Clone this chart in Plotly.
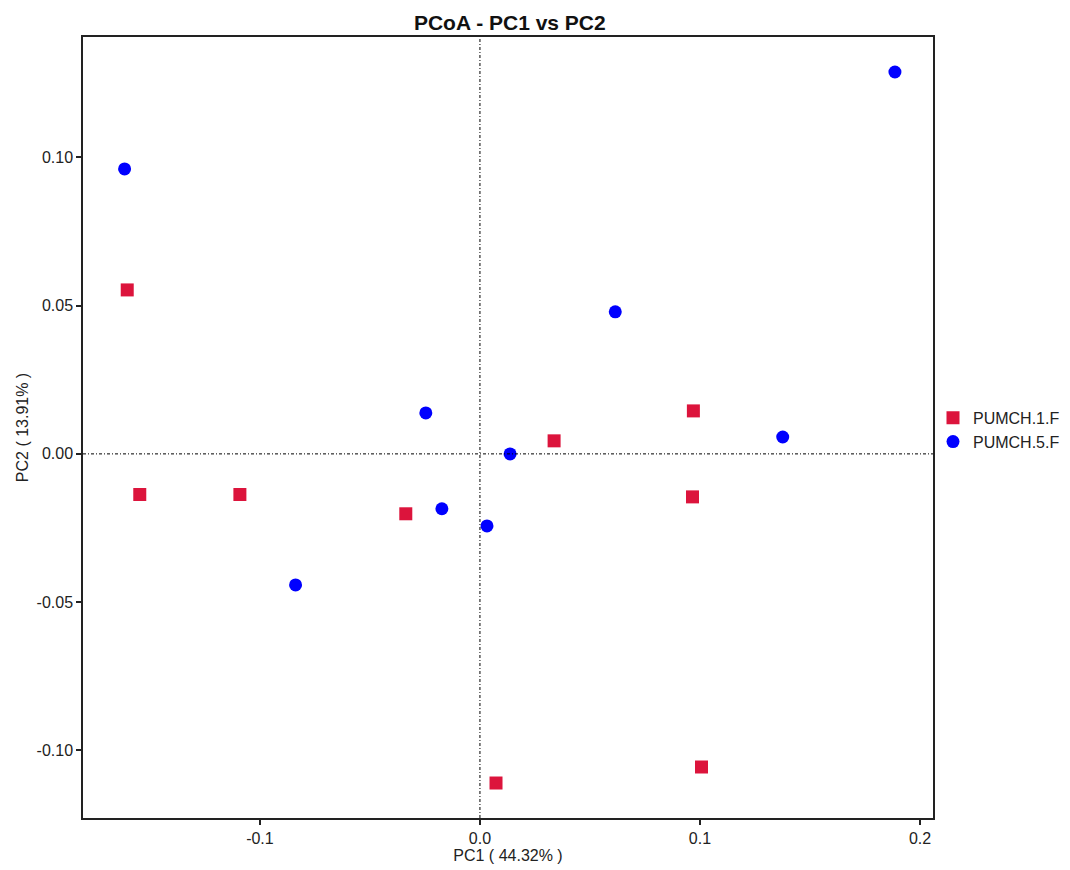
import plotly.graph_objects as go

groups = ["PUMCH.1.F", "PUMCH.5.F"]
pc1_g1 = [-0.1603, -0.1546, -0.1091, -0.0337, 0.0337, 0.0970, 0.0966, 0.0073, 0.1007]
pc2_g1 = [0.0553, -0.0137, -0.0137, -0.0202, 0.0044, 0.0145, -0.0145, -0.1110, -0.1056]
pc1_g2 = [-0.1615, 0.1886, 0.0615, -0.0246, 0.0137, 0.1376, -0.0173, 0.0032, -0.0838]
pc2_g2 = [0.0961, 0.1288, 0.0479, 0.0138, 0.0000, 0.0057, -0.0185, -0.0243, -0.0442]
x_ticks = [-0.1, 0.0, 0.1, 0.2]
x_ticktext = ["-0.1", "0.0", "0.1", "0.2"]
y_ticks = [-0.10, -0.05, 0.00, 0.05, 0.10]
y_ticktext = ["-0.10", "-0.05", "0.00", "0.05", "0.10"]

fig = go.Figure()
fig.add_trace(go.Scatter(x=pc1_g1, y=pc2_g1, mode="markers", name=groups[0],
                         marker=dict(symbol="square", size=13, color="#DC143C")))
fig.add_trace(go.Scatter(x=pc1_g2, y=pc2_g2, mode="markers", name=groups[1],
                         marker=dict(symbol="circle", size=13, color="#0000FF")))

fig.add_shape(type="line", xref="x", yref="paper", x0=0, x1=0, y0=0, y1=1,
              line=dict(color="black", width=1, dash="3px,2px,1px,2px"))
fig.add_shape(type="line", xref="paper", yref="y", x0=0, x1=1, y0=0, y1=0,
              line=dict(color="black", width=1, dash="3px,2px,1px,2px"))

font = "Liberation Sans, Arial, sans-serif"
fig.update_layout(
    width=1070, height=870,
    margin=dict(l=75, r=145, t=29, b=60),
    paper_bgcolor="white", plot_bgcolor="white",
    font=dict(family=font, size=16, color="#222"),
    title=dict(text="<b>PCoA - PC1 vs PC2</b>", x=0.469, xanchor="center",
               y=0.983, yanchor="middle", font=dict(size=21, color="#111")),
    showlegend=True,
    legend=dict(x=1.0, y=0.497, xanchor="left", yanchor="middle",
                font=dict(size=16, color="#222"), itemwidth=30,
                tracegroupgap=0, bgcolor="rgba(0,0,0,0)"),
    xaxis=dict(range=[-0.1804, 0.2059], tickvals=x_ticks, ticktext=x_ticktext,
               showgrid=False, zeroline=False, showline=True, mirror=True,
               linecolor="#222", linewidth=1.5, ticks="outside", ticklen=5,
               tickcolor="#222", tickwidth=1.5, tickfont=dict(size=16),
               title=dict(text="PC1 ( 44.32% )", standoff=0, font=dict(size=16))),
    yaxis=dict(range=[-0.1228, 0.1406], tickvals=y_ticks, ticktext=y_ticktext,
               showgrid=False, zeroline=False, showline=True, mirror=True,
               linecolor="#222", linewidth=1.5, ticks="outside", ticklen=5,
               tickcolor="#222", tickwidth=1.5, tickfont=dict(size=16),
               title=dict(text="PC2 ( 13.91% )", standoff=4, font=dict(size=16))),
)

fig.write_html("out.html")
